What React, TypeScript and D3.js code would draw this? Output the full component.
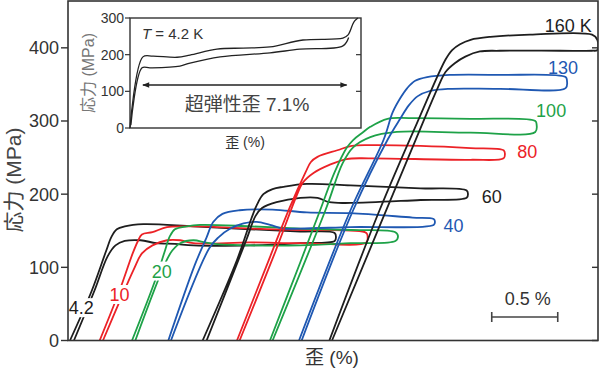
import * as d3 from 'd3'

const W = 600
const H = 372
const FONT = "'Liberation Sans', Arial, 'Noto Sans CJK JP', sans-serif"
const INK = '#333'

const BLACK = '#1e1e1e'
const RED = '#ec2227'
const GREEN = '#1ea248'
const BLUE = '#1f58b2'

// strain (%) with offsets, stress (MPa)
const curve4 = [[0.015, 0], [0.18, 68], [0.29, 123], [0.33, 142], [0.37, 152], [0.43, 156], [0.57, 159], [0.95, 156], [1.38, 152], [1.76, 149], [2.02, 147], [2.03, 141], [2.02, 136], [1.76, 133], [1.38, 130], [0.95, 130], [0.81, 132], [0.67, 133], [0.55, 137], [0.43, 136], [0.36, 130], [0.3, 115], [0.2, 68], [0.045, 0]]
const curve10 = [[0.24, 0], [0.39, 68], [0.49, 119], [0.53, 136], [0.56, 145], [0.64, 148], [0.75, 155], [0.9, 156], [1.0, 156], [1.38, 153], [1.76, 151], [2.26, 147], [2.27, 141], [2.26, 134], [1.76, 133], [1.38, 134], [0.95, 133], [0.85, 137], [0.75, 137], [0.64, 130], [0.56, 119], [0.5, 98], [0.265, 0]]
const curve20 = [[0.485, 0], [0.66, 82], [0.735, 123], [0.77, 142], [0.81, 152], [0.9, 156], [1.0, 158], [1.38, 156], [1.76, 153], [2.14, 151], [2.48, 148], [2.5, 142], [2.48, 136], [2.14, 133], [1.76, 130], [1.38, 130], [1.11, 132], [1.04, 134], [0.95, 137], [0.85, 133], [0.79, 123], [0.74, 107], [0.51, 0]]
const curve40 = [[0.76, 0], [0.96, 103], [1.05, 141], [1.1, 162], [1.17, 173], [1.3, 178], [1.55, 179], [1.81, 175], [2.14, 174], [2.61, 168], [2.77, 166], [2.78, 162], [2.77, 158], [2.14, 155], [1.76, 153], [1.63, 153], [1.53, 158], [1.43, 162], [1.33, 160], [1.23, 153], [1.14, 141], [1.07, 126], [0.78, 0]]
const curve60 = [[1.02, 0], [1.28, 110], [1.39, 167], [1.43, 185], [1.48, 200], [1.55, 207], [1.63, 210], [1.81, 214], [2.14, 212], [2.67, 208], [3.02, 205], [3.03, 200], [3.02, 195], [2.67, 192], [2.14, 188], [1.98, 189], [1.89, 195], [1.76, 195], [1.58, 189], [1.47, 181], [1.42, 170], [1.35, 137], [1.05, 0]]
const curve80 = [[1.28, 0], [1.53, 114], [1.68, 182], [1.8, 230], [1.84, 244], [1.89, 251], [2.04, 260], [2.15, 266], [2.29, 267], [2.67, 266], [3.05, 263], [3.3, 260], [3.31, 255], [3.3, 249], [3.05, 247], [2.29, 249], [2.11, 248], [1.98, 240], [1.86, 229], [1.78, 216], [1.73, 197], [1.57, 121], [1.3, 0]]
const curve100 = [[1.53, 0], [1.76, 107], [1.91, 178], [2.02, 230], [2.11, 263], [2.16, 274], [2.23, 284], [2.29, 292], [2.42, 303], [2.59, 304], [3.05, 303], [3.54, 300], [3.55, 295], [3.54, 285], [3.05, 284], [2.49, 285], [2.29, 278], [2.16, 264], [2.08, 242], [1.95, 178], [1.55, 0]]
const curve130 = [[1.75, 0], [2.14, 178], [2.39, 274], [2.46, 312], [2.52, 332], [2.57, 345], [2.63, 355], [2.72, 360], [2.89, 363], [3.27, 363], [3.77, 360], [3.78, 355], [3.77, 345], [3.27, 344], [2.89, 344], [2.74, 341], [2.65, 334], [2.58, 321], [2.52, 304], [2.42, 274], [2.16, 178], [1.77, 0]]
const curve160 = [[1.98, 0], [2.36, 178], [2.67, 308], [2.86, 384], [2.91, 397], [2.97, 405], [3.05, 411], [3.2, 415], [3.5, 418], [3.97, 418], [4.01, 411], [4.01, 397], [3.97, 396], [3.73, 396], [3.27, 396], [3.12, 395], [3.01, 388], [2.93, 379], [2.86, 367], [2.8, 345], [2.67, 290], [2.0, 0]]

const curves = [
  { pts: curve4, color: BLACK },
  { pts: curve10, color: RED },
  { pts: curve20, color: GREEN },
  { pts: curve40, color: BLUE },
  { pts: curve60, color: BLACK },
  { pts: curve80, color: RED },
  { pts: curve100, color: GREEN },
  { pts: curve130, color: BLUE },
  { pts: curve160, color: BLACK },
]

// temperature labels: text, strain, stress, colour, white box
const tempLabels = [
  { t: '160 K', s: 3.79, v: 421, c: BLACK },
  { t: '130', s: 3.75, v: 364, c: BLUE },
  { t: '100', s: 3.66, v: 306, c: GREEN },
  { t: '80', s: 3.48, v: 249, c: RED },
  { t: '60', s: 3.21, v: 188, c: BLACK },
  { t: '40', s: 2.92, v: 148, c: BLUE },
  { t: '20', s: 0.71, v: 86, c: GREEN, box: true },
  { t: '10', s: 0.39, v: 54, c: RED, box: true },
  { t: '4.2', s: 0.1, v: 36, c: BLACK, box: true },
]

const yTicks = [0, 100, 200, 300, 400]

// inset: 4.2 K full cycle
const insetLoad = [[0, 0], [0.45, 194], [0.8, 196], [1.64, 193], [2.09, 199], [3.03, 215], [3.94, 218], [4.88, 221], [6.03, 240], [7.42, 245], [7.6, 254], [7.8, 289], [7.94, 300]]
const insetUnload = [[7.62, 247], [7.42, 224], [5.92, 215], [4.88, 205], [3.14, 194], [2.09, 177], [1.74, 169], [0.7, 164], [0.42, 164], [0.03, 8]]
const insetTicks = [0, 100, 200, 300]

export default function App() {
  const x = d3.scaleLinear().domain([0, 4.015]).range([68, 598])
  const y = d3.scaleLinear().domain([0, 464]).range([340.5, 1])
  const line = d3
    .line<number[]>()
    .x((d) => x(d[0]))
    .y((d) => y(d[1]))
    .curve(d3.curveCatmullRom.alpha(0.5))

  const ix = d3.scaleLinear().domain([0, 8.05]).range([130, 361])
  const iy = d3.scaleLinear().domain([0, 300]).range([128, 18])
  const iline = d3
    .line<number[]>()
    .x((d) => ix(d[0]))
    .y((d) => iy(d[1]))
    .curve(d3.curveCatmullRom.alpha(0.5))

  const barY = 317
  const barX0 = x(3.21)
  const barX1 = x(3.71)

  return (
    <div style={{ position: 'absolute', left: 0, top: 0 }}>
      <svg width={W} height={H} style={{ display: 'block', fontFamily: FONT }}>
        <rect width={W} height={H} fill="white" />
        <defs>
          <clipPath id="plot">
            <rect x={68} y={1} width={530} height={340} />
          </clipPath>
          <marker id="ah" viewBox="0 0 10 10" refX={9} refY={5} markerWidth={9} markerHeight={7} orient="auto-start-reverse" markerUnits="userSpaceOnUse">
            <path d="M0,1 L10,5 L0,9 z" fill="#222" />
          </marker>
        </defs>

        <g clipPath="url(#plot)">
          {curves.map((c, i) => (
            <path key={i} d={line(c.pts as number[][]) ?? ''} fill="none" stroke={c.color} strokeWidth={1.8} strokeLinejoin="round" />
          ))}
        </g>

        {tempLabels.map((l, i) => {
          const w = l.t.length * 10.5 + 2
          return (
            <g key={i}>
              {l.box && <rect x={x(l.s) - w / 2} y={y(l.v) - 16} width={w} height={19} fill="white" />}
              <text x={x(l.s)} y={y(l.v)} textAnchor="middle" fontSize={18} fill={l.c}>
                {l.t}
              </text>
            </g>
          )
        })}

        {/* frame */}
        <rect x={68} y={1} width={530} height={339.5} fill="none" stroke={INK} strokeWidth={1.6} />
        {yTicks.map((t) => (
          <g key={t}>
            <line x1={61} x2={68} y1={y(t)} y2={y(t)} stroke={INK} strokeWidth={1.4} />
            <line x1={592} x2={598} y1={y(t)} y2={y(t)} stroke={INK} strokeWidth={1.4} />
            <text x={59} y={y(t) + 6.5} textAnchor="end" fontSize={18} fill={INK}>
              {t}
            </text>
          </g>
        ))}
        <text transform={`translate(21,180) rotate(-90)`} textAnchor="middle" fontSize={21} fill="#444">
          応力 (MPa)
        </text>
        <text x={332} y={364} textAnchor="middle" fontSize={19} fill={INK}>
          歪 (%)
        </text>

        {/* scale bar */}
        <line x1={barX0} x2={barX1} y1={barY} y2={barY} stroke="#444" strokeWidth={1.6} />
        <line x1={barX0} x2={barX0} y1={barY - 5} y2={barY + 5} stroke="#444" strokeWidth={1.6} />
        <line x1={barX1} x2={barX1} y1={barY - 5} y2={barY + 5} stroke="#444" strokeWidth={1.6} />
        <text x={(barX0 + barX1) / 2 + 3} y={305} textAnchor="middle" fontSize={18} fill={INK}>
          0.5 %
        </text>

        {/* inset */}
        <rect x={130} y={18} width={231} height={110} fill="white" stroke={INK} strokeWidth={1.4} />
        {insetTicks.map((t) => (
          <g key={t}>
            <line x1={125} x2={130} y1={iy(t)} y2={iy(t)} stroke={INK} strokeWidth={1.2} />
            {t > 0 && t < 300 && <line x1={356} x2={361} y1={iy(t)} y2={iy(t)} stroke={INK} strokeWidth={1.2} />}
            <text x={124} y={iy(t) + 5} textAnchor="end" fontSize={14} fill={INK}>
              {t}
            </text>
          </g>
        ))}
        <path d={iline(insetLoad) ?? ''} fill="none" stroke="#222" strokeWidth={1.3} />
        <path d={iline(insetUnload) ?? ''} fill="none" stroke="#222" strokeWidth={1.3} />
        <line x1={ix(0.45)} x2={ix(7.55)} y1={85} y2={85} stroke="#222" strokeWidth={1.3} markerStart="url(#ah)" markerEnd="url(#ah)" />
        <text x={142} y={39} fontSize={15} fill={INK}>
          <tspan fontStyle="italic">T</tspan> = 4.2 K
        </text>
        <text x={247} y={111} textAnchor="middle" fontSize={19} fill="#444">
          超弾性歪 7.1%
        </text>
        <text transform={`translate(94,73) rotate(-90)`} textAnchor="middle" fontSize={16} fill="#777">
          応力 (MPa)
        </text>
        <text x={245} y={147} textAnchor="middle" fontSize={14} fill={INK}>
          歪 (%)
        </text>
      </svg>
    </div>
  )
}
